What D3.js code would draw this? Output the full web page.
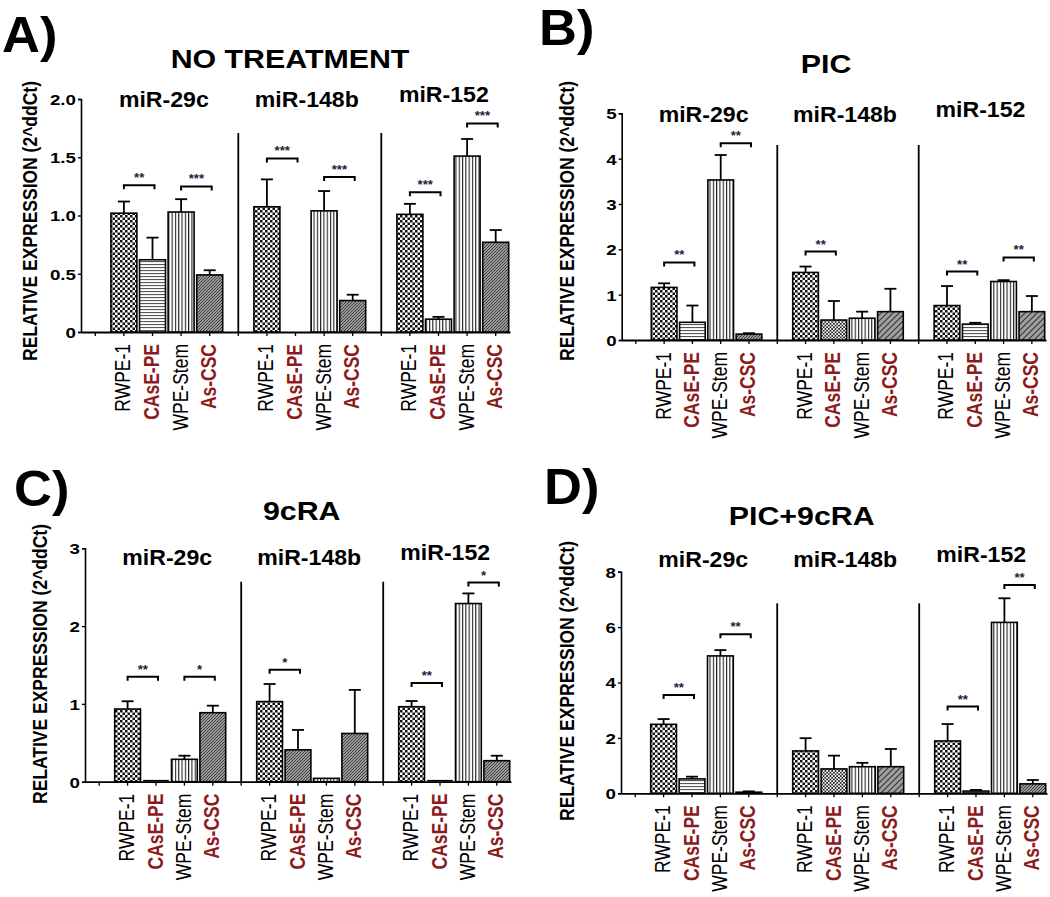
<!DOCTYPE html>
<html><head><meta charset="utf-8">
<script src="https://cdn.jsdelivr.net/npm/d3@7"></script>
<style>body{margin:0;background:#fff} svg{display:block} text{font-family:"Liberation Sans",Arial,sans-serif}</style>
</head><body><svg id="c" width="1050" height="897"></svg>
<script>
// ---------- DATA ----------
const cellLines = ["RWPE-1", "CAsE-PE", "WPE-Stem", "As-CSC"];
const mirnas = ["miR-29c", "miR-148b", "miR-152"];
const treatments = ["NO TREATMENT", "PIC", "9cRA", "PIC+9cRA"];
const panelLetters = ["A)", "B)", "C)", "D)"];

// means per miRNA (rows) x cell line (cols); null = no bar
const meansA = [[1.02, 0.62, 1.03, 0.49], [1.075, null, 1.04, 0.27], [1.01, 0.11, 1.51, 0.77]];
const semA   = [[0.10, 0.19, 0.11, 0.04], [0.235, 0, 0.17, 0.05], [0.09, 0.02, 0.147, 0.105]];
const meansB = [[1.16, 0.39, 3.53, 0.13], [1.49, 0.44, 0.48, 0.625], [0.76, 0.35, 1.29, 0.625]];
const semB   = [[0.09, 0.37, 0.55, 0.02], [0.13, 0.42, 0.145, 0.505], [0.43, 0.03, 0.03, 0.345]];
const meansC = [[0.934, 0, 0.288, 0.887], [1.03, 0.41, 0.043, 0.62], [0.964, 0, 2.29, 0.27]];
const semC   = [[0.10, 0, 0.046, 0.09], [0.226, 0.255, 0, 0.56], [0.073, 0, 0.13, 0.064]];
const meansD = [[2.49, 0.52, 4.96, 0.04], [1.53, 0.88, 0.96, 0.96], [1.89, 0.08, 6.17, 0.34]];
const semD   = [[0.19, 0.08, 0.21, 0.03], [0.46, 0.48, 0.14, 0.64], [0.61, 0.04, 0.87, 0.14]];

// significance: [miRNA index, cell a, cell b, label, bracket level (data units)]
const sigA = [[0,0,1,"**",1.26],[0,2,3,"***",1.25],[1,0,1,"***",1.49],[1,2,3,"***",1.33],[2,0,1,"***",1.20],[2,2,3,"***",1.79]];
const sigB = [[0,0,1,"**",1.71],[0,2,3,"**",4.34],[1,0,1,"**",1.95],[2,0,1,"**",1.51],[2,2,3,"**",1.82]];
const sigC = [[0,0,1,"**",1.35],[0,2,3,"*",1.35],[1,0,1,"*",1.44],[2,0,1,"**",1.27],[2,2,3,"*",2.56]];
const sigD = [[0,0,1,"**",3.55],[0,2,3,"**",5.74],[2,0,1,"**",3.13],[2,2,3,"**",7.52]];

const yTicksA = [0, 0.5, 1.0, 1.5, 2.0], yTickLabelsA = ["0", "0.5", "1.0", "1.5", "2.0"];
const yTicksB = [0, 1, 2, 3, 4, 5],      yTickLabelsB = ["0", "1", "2", "3", "4", "5"];
const yTicksC = [0, 1, 2, 3],            yTickLabelsC = ["0", "1", "2", "3"];
const yTicksD = [0, 2, 4, 6, 8],         yTickLabelsD = ["0", "2", "4", "6", "8"];

const yLabel = "RELATIVE EXPRESSION (2^ddCt)";

// ---------- STYLE / LAYOUT ----------
const patA = [["check","hlines","vlines","diag"],["check","hlines","vlines","diag"],["check","vlines","vlines","diag"]];
const patB = [["check","hlines","vlines","diag"],["check","fine","vlines","wdiag"],["check","hlines","vlines","wdiag"]];
const patC = [["check","hlines","vlines","diag"],["check","diag","vlines","diag"],["check","hlines","vlines","diag"]];
const patD = [["check","hlines","vlines","diag"],["check","fine","vlines","wdiag"],["check","hlines","vlines","diag"]];

const panels = [
  {means: meansA, sem: semA, sig: sigA, ticks: yTicksA, tl: yTickLabelsA, pat: patA, ymax: 2,
   x0: 81, x1: 510, y0: 332, yTop: 99, divTop: 133, letter: [2, 52], title: [290, 68], gl: 107, ylab: [30, 221]},
  {means: meansB, sem: semB, sig: sigB, ticks: yTicksB, tl: yTickLabelsB, pat: patB, ymax: 5,
   x0: 621.7, x1: 1046, y0: 340, yTop: 113.3, divTop: 145, letter: [539, 45], title: [826, 73], gl: 122, ylab: [567, 221]},
  {means: meansC, sem: semC, sig: sigC, ticks: yTicksC, tl: yTickLabelsC, pat: patC, ymax: 3,
   x0: 85, x1: 511, y0: 781.7, yTop: 548.3, divTop: 581.7, letter: [14, 506], title: [301.7, 520], gl: 565, ylab: [40, 664]},
  {means: meansD, sem: semD, sig: sigD, ticks: yTicksD, tl: yTickLabelsD, pat: patD, ymax: 8,
   x0: 621, x1: 1047, y0: 793.3, yTop: 571.7, divTop: 603.3, letter: [544, 504], title: [801.7, 525], gl: 567, ylab: [567, 681]}
];
const groupDx = [-3, -3, -9], groupDy = [0, 0, -5];
const RED = "#8c1c1c";
const SX = 1.25;

const svg = d3.select("#c");
const defs = svg.append("defs");
function pat(id, w, h, build) {
  const p = defs.append("pattern").attr("id", id).attr("patternUnits", "userSpaceOnUse")
    .attr("width", w).attr("height", h);
  build(p);
}
pat("check", 5, 5, p => {
  p.append("rect").attr("width", 5).attr("height", 5).attr("fill", "#fff");
  p.append("rect").attr("width", 2.5).attr("height", 2.5).attr("fill", "#111");
  p.append("rect").attr("x", 2.5).attr("y", 2.5).attr("width", 2.5).attr("height", 2.5).attr("fill", "#111");
});
pat("fine", 3.4, 3.4, p => {
  p.append("rect").attr("width", 3.4).attr("height", 3.4).attr("fill", "#fff");
  p.append("rect").attr("width", 1.7).attr("height", 1.7).attr("fill", "#222");
  p.append("rect").attr("x", 1.7).attr("y", 1.7).attr("width", 1.7).attr("height", 1.7).attr("fill", "#222");
});
pat("hlines", 4, 3, p => {
  p.append("rect").attr("width", 4).attr("height", 3).attr("fill", "#fff");
  p.append("rect").attr("width", 4).attr("height", 1.1).attr("fill", "#555");
});
pat("vlines", 3.3, 4, p => {
  p.append("rect").attr("width", 3.3).attr("height", 4).attr("fill", "#fff");
  p.append("rect").attr("width", 1.1).attr("height", 4).attr("fill", "#222");
});
pat("diag", 3, 3, p => {
  p.append("rect").attr("width", 3).attr("height", 3).attr("fill", "#9a9a9a");
  p.append("path").attr("d", "M-1,1 L1,-1 M0,3 L3,0 M2,4 L4,2").attr("stroke", "#333").attr("stroke-width", 0.9);
});
pat("wdiag", 6, 6, p => {
  p.append("rect").attr("width", 6).attr("height", 6).attr("fill", "#9f9f9f");
  p.append("path").attr("d", "M-1,1 L1,-1 M0,6 L6,0 M5,7 L7,5").attr("stroke", "#333").attr("stroke-width", 1.1);
});

function stext(g, str, x, y, opts) {
  const t = g.append("text").text(str)
    .attr("transform", `translate(${x},${y}) scale(${opts.sx || SX},1)` + (opts.rot ? ` rotate(${opts.rot})` : ""))
    .style("font-size", opts.size + "px").style("font-weight", opts.weight || "bold")
    .attr("fill", opts.fill || "#000").attr("text-anchor", opts.anchor || "middle");
  if (opts.dy) t.attr("dy", opts.dy);
  return t;
}

panels.forEach((P, pi) => {
  const g = svg.append("g");
  // slot keys: empty slot, 4 cells per group, divider between groups
  const slots = ["s0"];
  mirnas.forEach((m, gi) => {
    cellLines.forEach((c, ci) => slots.push(gi + "|" + ci));
    if (gi < mirnas.length - 1) slots.push("d" + gi);
  });
  const x = d3.scaleBand().domain(slots).range([P.x0, P.x1]).paddingInner(0.05).paddingOuter(0.025);
  const y = d3.scaleLinear().domain([0, P.ymax]).range([P.y0, P.yTop]);
  const bw = x.bandwidth();
  const cx = k => x(k) + bw / 2;

  // y axis
  const ya = g.append("g").attr("transform", `translate(${P.x0},0)`)
    .call(d3.axisLeft(y).tickValues(P.ticks).tickFormat((d, i) => P.tl[i]).tickSizeOuter(0).tickSize(3));
  ya.attr("font-size", null).attr("font-family", null);
  ya.select(".domain").attr("stroke-width", 1.6);
  ya.selectAll(".tick line").attr("stroke-width", 1.4);
  ya.selectAll(".tick text").attr("x", null).attr("dy", "0.36em")
    .attr("transform", `translate(-5,0) scale(${SX},1)`)
    .style("font-size", "15px").style("font-weight", "bold").attr("fill", "#000");

  // x axis
  const xa = g.append("g").attr("transform", `translate(0,${P.y0})`)
    .call(d3.axisBottom(x).tickFormat("").tickSize(4).tickSizeOuter(0));
  xa.select(".domain").attr("stroke-width", 1.8);
  xa.selectAll(".tick line").attr("stroke-width", 1.3);

  // dividers
  mirnas.slice(0, -1).forEach((m, gi) => {
    g.append("line").attr("x1", cx("d" + gi)).attr("x2", cx("d" + gi))
      .attr("y1", P.divTop).attr("y2", P.y0).attr("stroke", "#000").attr("stroke-width", 1.8);
  });

  // bars
  mirnas.forEach((m, gi) => {
    cellLines.forEach((c, ci) => {
      const v = P.means[gi][ci];
      if (v === null) return;
      const k = gi + "|" + ci;
      const e = P.sem[gi][ci];
      if (e > 0) {
        g.append("line").attr("x1", cx(k)).attr("x2", cx(k)).attr("y1", y(v)).attr("y2", y(v + e))
          .attr("stroke", "#000").attr("stroke-width", 1.8);
        g.append("line").attr("x1", cx(k) - 6).attr("x2", cx(k) + 6).attr("y1", y(v + e)).attr("y2", y(v + e))
          .attr("stroke", "#000").attr("stroke-width", 1.8);
      }
      if (v === 0) {
        g.append("line").attr("x1", x(k) + 0.6).attr("x2", x(k) + bw - 0.6)
          .attr("y1", y(0) - 1).attr("y2", y(0) - 1).attr("stroke", "#000").attr("stroke-width", 1.6);
        return;
      }
      g.append("rect").attr("x", x(k) + 0.6).attr("width", bw - 1.2)
        .attr("y", y(v)).attr("height", y(0) - y(v))
        .attr("fill", `url(#${P.pat[gi][ci]})`).attr("stroke", "#000").attr("stroke-width", 1.6);
    });
    // group label
    const mid = (cx(gi + "|0") + cx(gi + "|3")) / 2;
    stext(g, m, mid + groupDx[gi], P.gl + groupDy[gi], {size: 22, sx: 1.05});
  });

  // x labels
  mirnas.forEach((m, gi) => {
    cellLines.forEach((c, ci) => {
      const red = ci % 2 === 1;
      stext(g, c, cx(gi + "|" + ci) + 6.5, P.y0 + 12,
        {size: 17.5, rot: -90, anchor: "end", weight: red ? "bold" : "normal", fill: red ? RED : "#000", sx: 1.28});
    });
  });

  // significance brackets
  P.sig.forEach(([gi, a, b, lab, lev]) => {
    const xa1 = cx(gi + "|" + a), xb1 = cx(gi + "|" + b) + 2;
    const yy = y(lev);
    g.append("path").attr("d", `M${xa1},${yy + 4}V${yy}H${xb1}V${yy + 4}`)
      .attr("fill", "none").attr("stroke", "#000").attr("stroke-width", 2);
    stext(g, lab, (xa1 + xb1) / 2, yy - 3, {size: 12, fill: "#1e1e3c", sx: 1.1});
  });

  // y label
  stext(g, yLabel, P.ylab[0], P.ylab[1], {size: 17.5, rot: -90, dy: "0.35em", sx: 1.15});

  // titles
  stext(g, treatments[pi], P.title[0], P.title[1], {size: 25.5, sx: 1.19});
  stext(g, panelLetters[pi], P.letter[0], P.letter[1], {size: 50, anchor: "start", sx: 1.05});
});
</script></body></html>
